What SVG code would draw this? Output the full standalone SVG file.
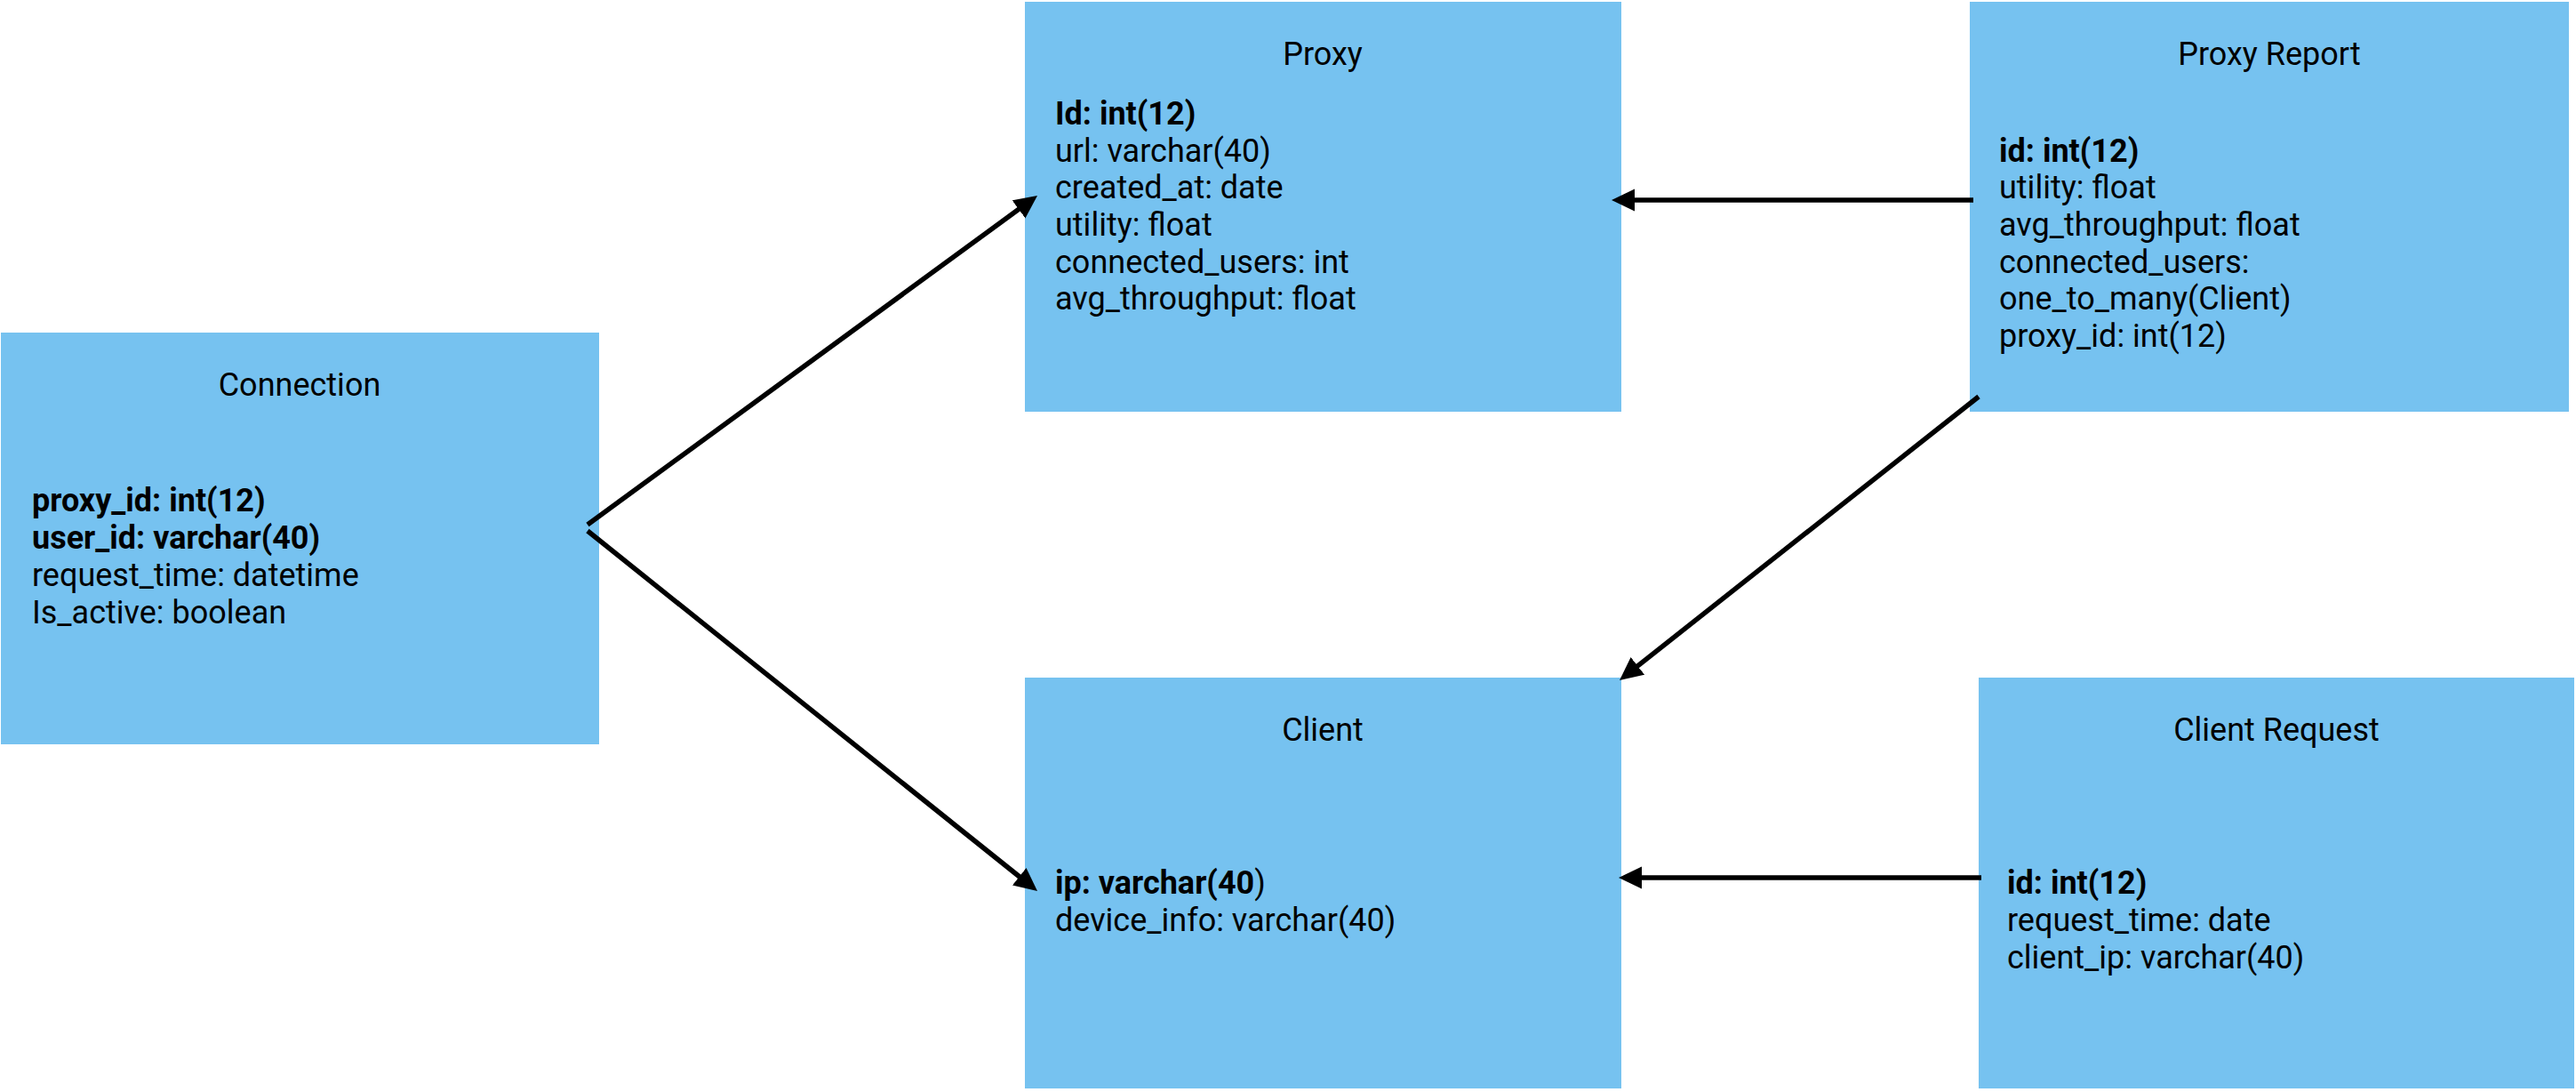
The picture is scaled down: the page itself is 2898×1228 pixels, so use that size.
<svg xmlns="http://www.w3.org/2000/svg" width="2898" height="1228" viewBox="0 0 2898 1228">
<style>
.box{fill:#76C2F0;}
text{font-family:Roboto,"Liberation Sans",sans-serif;font-size:36px;fill:#000;}
.title{text-anchor:middle;}
.b{font-weight:bold;}
.edge{stroke:#000;stroke-width:5.5;fill:none;marker-end:url(#arrow);}
</style>
<defs>
<marker id="arrow" markerUnits="userSpaceOnUse" markerWidth="28" markerHeight="26" refX="6" refY="12.5" orient="auto">
<path d="M0,0 L26,12.5 L0,25 Z" fill="#000"/>
</marker>
</defs>
<rect width="2898" height="1228" fill="#fff"/>
<g id="connection">
<rect class="box" x="1" y="374" width="673" height="463"/>
<text class="title" x="337" y="445">Connection</text>
<text class="b" x="36" y="575">proxy_id: int(12)</text>
<text class="b" x="36" y="617">user_id: varchar(40)</text>
<text x="36" y="659">request_time: datetime</text>
<text x="36" y="701">Is_active: boolean</text>
</g>
<g id="proxy">
<rect class="box" x="1153" y="2" width="671" height="461"/>
<text class="title" x="1488" y="73">Proxy</text>
<text class="b" x="1187" y="140">Id: int(12)</text>
<text x="1187" y="182">url: varchar(40)</text>
<text x="1187" y="223">created_at: date</text>
<text x="1187" y="265">utility: float</text>
<text x="1187" y="307">connected_users: int</text>
<text x="1187" y="348">avg_throughput: float</text>
</g>
<g id="proxy-report">
<rect class="box" x="2216" y="2" width="674" height="461"/>
<text class="title" x="2553" y="73">Proxy Report</text>
<text class="b" x="2249" y="182">id: int(12)</text>
<text x="2249" y="223">utility: float</text>
<text x="2249" y="265">avg_throughput: float</text>
<text x="2249" y="307">connected_users:</text>
<text x="2249" y="348">one_to_many(Client)</text>
<text x="2249" y="390">proxy_id: int(12)</text>
</g>
<g id="client">
<rect class="box" x="1153" y="762" width="671" height="462"/>
<text class="title" x="1488" y="833">Client</text>
<text x="1187" y="1005"><tspan class="b">ip: varchar(40</tspan>)</text>
<text x="1187" y="1047">device_info: varchar(40)</text>
</g>
<g id="client-request">
<rect class="box" x="2226" y="762" width="670" height="462"/>
<text class="title" x="2561" y="833">Client Request</text>
<text class="b" x="2258" y="1005">id: int(12)</text>
<text x="2258" y="1047">request_time: date</text>
<text x="2258" y="1089">client_ip: varchar(40)</text>
</g>
<g id="connectors">
<line class="edge" x1="661" y1="590" x2="1150.9" y2="231.8"/>
<line class="edge" x1="661" y1="597" x2="1151.4" y2="989.5"/>
<line class="edge" x1="2220" y1="225" x2="1833" y2="225"/>
<line class="edge" x1="2226" y1="446" x2="1837.7" y2="752.6"/>
<line class="edge" x1="2229" y1="987" x2="1841" y2="987"/>
</g>
</svg>
